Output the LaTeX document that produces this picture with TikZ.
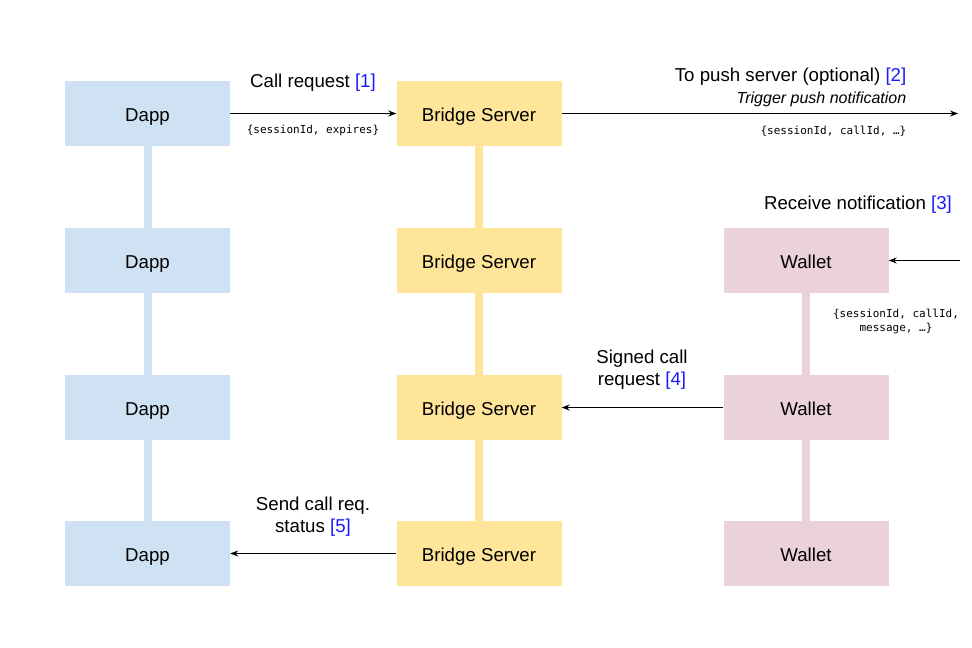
\documentclass[tikz,border=0pt]{standalone}
\usepackage{fontspec}
\setmainfont{Liberation Sans}
\setmonofont{DejaVu Sans Mono}
\usetikzlibrary{arrows.meta}
\definecolor{dappc}{HTML}{CFE2F3}
\definecolor{bridgec}{HTML}{FFE599}
\definecolor{walletc}{HTML}{EAD1DC}
\definecolor{refblue}{HTML}{1A1AFF}
\tikzset{
  box/.style={minimum width=165pt, minimum height=65pt, inner sep=0pt, text height=15pt, text depth=0pt, font=\fontsize{18.67}{22}\selectfont},
  dappbox/.style={box, fill=dappc},
  bridgebox/.style={box, fill=bridgec},
  walletbox/.style={box, fill=walletc},
  lifeline/.style={line width=8pt},
  msg/.style={line width=0.9pt, -{Stealth[length=8pt,width=6pt]}},
  lbl/.style={font=\fontsize{18.67}{22.5}\selectfont, align=center, inner sep=0pt},
  mono/.style={font=\ttfamily\fontsize{11}{14}\selectfont, inner sep=0pt, align=center},
}
\newcommand{\refn}[1]{\textcolor{refblue}{[#1]}}
\begin{document}
\begin{tikzpicture}[x=1pt,y=-1pt]
\useasboundingbox (0,0) rectangle (972,648);
% lifelines (drawn first)
\draw[lifeline, dappc] (147.5,113.5) -- (147.5,553.5);
\draw[lifeline, bridgec] (479,113.5) -- (479,553.5);
\draw[lifeline, walletc] (806,260.5) -- (806,553.5);
% boxes
\node[dappbox] (d1) at (147.5,113.5) {Dapp};
\node[dappbox] (d2) at (147.5,260.5) {Dapp};
\node[dappbox] (d3) at (147.5,407.5) {Dapp};
\node[dappbox] (d4) at (147.5,553.5) {Dapp};
\node[bridgebox] (b1) at (479,113.5) {Bridge Server};
\node[bridgebox] (b2) at (479,260.5) {Bridge Server};
\node[bridgebox] (b3) at (479,407.5) {Bridge Server};
\node[bridgebox] (b4) at (479,553.5) {Bridge Server};
\node[walletbox] (w2) at (806,260.5) {Wallet};
\node[walletbox] (w3) at (806,407.5) {Wallet};
\node[walletbox] (w4) at (806,553.5) {Wallet};
% messages
\coordinate (pushend) at (958,113.5);
\coordinate (pushstart) at (960,260.5);
\draw[msg] (d1) -- (b1);
\draw[msg] (b1) -- (pushend);
\draw[msg] (pushstart) -- (w2);
\draw[msg] (w3) -- (b3);
\draw[msg] (b4) -- (d4);
% labels
\node[lbl] (l1) at (313,82.5) {Call request \refn{1}};
\node[mono] (m1) at (313,130.5) {\{sessionId, expires\}};
\node[lbl, anchor=east] (l2) at (906.5,76.5) {To push server (optional) \refn{2}};
\node[lbl, anchor=east, font=\itshape\fontsize{16}{19}\selectfont] (l2b) at (906.5,99) {Trigger push notification};
\node[mono, anchor=east] (m2) at (906.5,131) {\{sessionId, callId, …\}};
\node[lbl] (l3) at (858,204.5) {Receive notification \refn{3}};
\node[mono] (m3) at (896,321) {\{sessionId, callId,\\message, …\}};
\node[lbl] (l4) at (642,369.5) {Signed call\\request \refn{4}};
\node[lbl] (l5) at (313,516.5) {Send call req.\\status \refn{5}};
\end{tikzpicture}
\end{document}
